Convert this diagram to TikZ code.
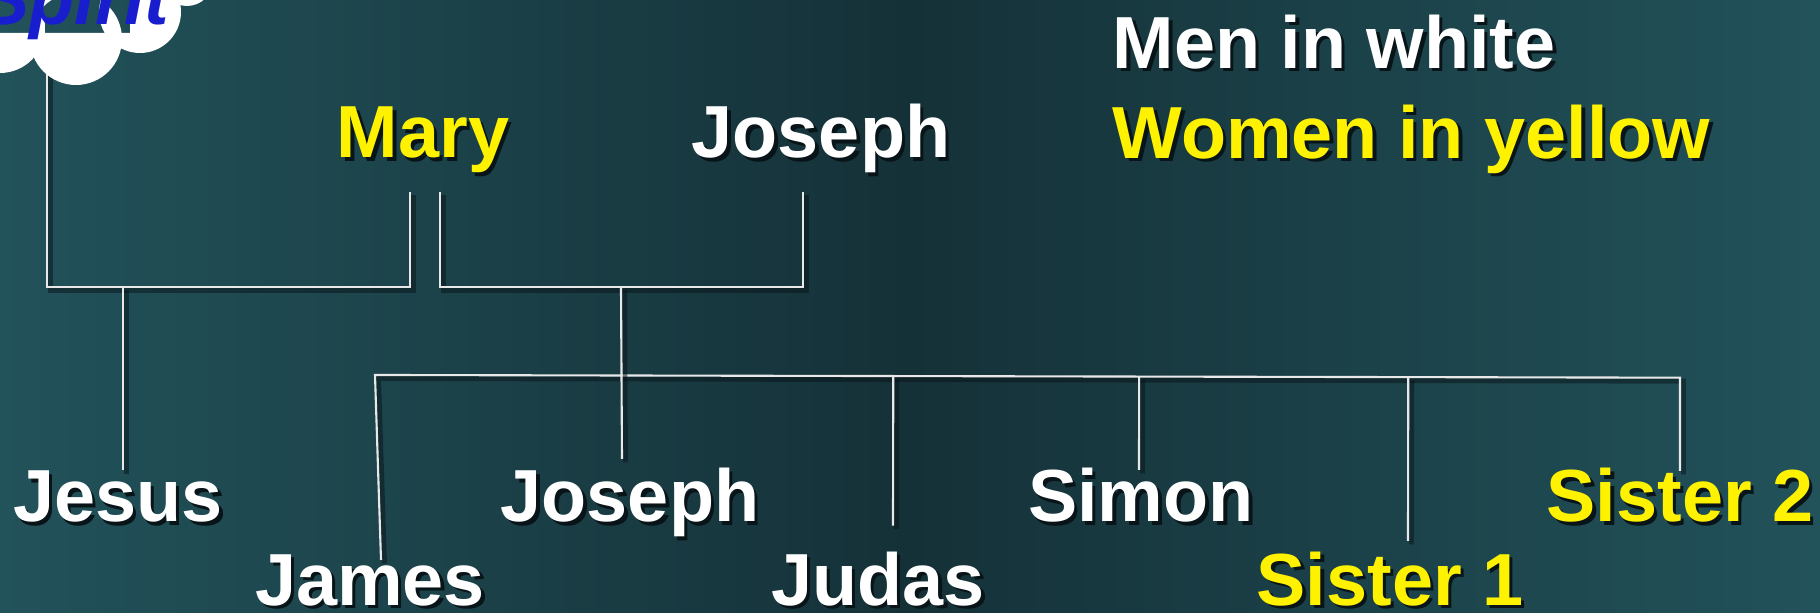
\documentclass[tikz,border=0pt]{standalone}
\usepackage{fontspec}
\setmainfont{Liberation Sans}
\usepackage{tikz}
\usetikzlibrary{calc}
\usepackage{xcolor}
\definecolor{bgside}{RGB}{34,82,90}
\definecolor{bgmid}{RGB}{21,49,56}
\definecolor{shadowcol}{RGB}{8,20,24}
\definecolor{spiritblue}{RGB}{24,30,205}
\definecolor{linegray}{RGB}{232,232,232}
\newcommand{\shadowed}[1]{\rlap{\kern1pt\raisebox{-1pt}{\color{shadowcol}#1}}#1}

\begin{document}
\begin{tikzpicture}
  \tikzset{famname/.style={font=\fontsize{21}{25}\selectfont\bfseries,inner sep=0pt,anchor=base,text=white}}
  \tikzset{woman/.style={famname,text=yellow}}
  \tikzset{famline/.style={draw=linegray,line width=0.6pt,preaction={draw=shadowcol,opacity=0.5,line width=1.4pt,transform canvas={xshift=1pt,yshift=-1pt}}}}
  \useasboundingbox (0,0) rectangle (18.2,6.13);
  \shade[left color=bgside,right color=bgside,middle color=bgmid] (0,0) rectangle (18.2,6.13);
  \node[woman] (mary) at (4.23,4.55) {\shadowed{Mary}};
  \node[famname] (josephsr) at (8.21,4.55) {\shadowed{Joseph}};
  \node[famname,anchor=base west] (menkey) at (11.12,5.447) {\shadowed{Men in white}};
  \node[woman,anchor=base west] (womenkey) at (11.12,4.547) {\shadowed{Women in yellow}};
  \node[famname] (jesus) at (1.18,0.913) {\shadowed{Jesus}};
  \node[famname] (josephjr) at (6.30,0.913) {\shadowed{Joseph}};
  \node[famname] (simon) at (11.41,0.913) {\shadowed{Simon}};
  \node[woman] (sister2) at (16.80,0.913) {\shadowed{Sister 2}};
  \node[famname] (james) at (3.70,0.075) {\shadowed{James}};
  \node[famname] (judas) at (8.78,0.075) {\shadowed{Judas}};
  \node[woman] (sister1) at (13.90,0.075) {\shadowed{Sister 1}};
  \coordinate (spiritfoot) at (0.47,5.6);
  \coordinate (maryfoot) at (4.10,4.213);
  \coordinate (maryfoot2) at (4.40,4.213);
  \coordinate (josephfoot) at (8.03,4.213);
  \coordinate (leftjoin) at (1.23,3.263);
  \coordinate (rightjoin) at (6.21,3.263);
  \coordinate (barl) at (3.75,2.38);
  \coordinate (barr) at (16.80,2.353);
  \coordinate (jamesfoot) at (3.81,0.53);
  \coordinate (josephjrfoot) at (6.22,1.54);
  \coordinate (judasfoot) at (8.93,0.873);
  \coordinate (simonfoot) at (11.39,1.43);
  \coordinate (sister1foot) at (14.08,0.72);
  \coordinate (sister2foot) at (16.80,1.42);
  \draw[famline] (spiritfoot) -- (spiritfoot |- leftjoin) -- (leftjoin -| maryfoot) -- (maryfoot);
  \draw[famline] (maryfoot2) -- (maryfoot2 |- rightjoin) -- (rightjoin -| josephfoot) -- (josephfoot);
  \draw[famline] (leftjoin) -- (leftjoin |- jesus.north);
  \draw[famline] (jamesfoot) -- (barl) -- (barr) -- (sister2foot);
  \draw[famline] (rightjoin) -- (josephjrfoot);
  \draw[famline] ($(barl)!(judasfoot)!(barr)$) -- (judasfoot);
  \draw[famline] ($(barl)!(simonfoot)!(barr)$) -- (simonfoot);
  \draw[famline] ($(barl)!(sister1foot)!(barr)$) -- (sister1foot);
  \fill[white] (0,5.85) circle (0.45) (0.76,5.74) circle (0.46) (1.40,6.01) circle (0.41)
    (1.87,6.33) circle (0.26) (-0.3,5.8) rectangle (1.3,6.5);
  \node[famname,anchor=base east,text=spiritblue,font=\fontsize{21}{25}\selectfont\bfseries\itshape] (spirit) at (1.70,5.88) {Spirit};
\end{tikzpicture}
\end{document}
